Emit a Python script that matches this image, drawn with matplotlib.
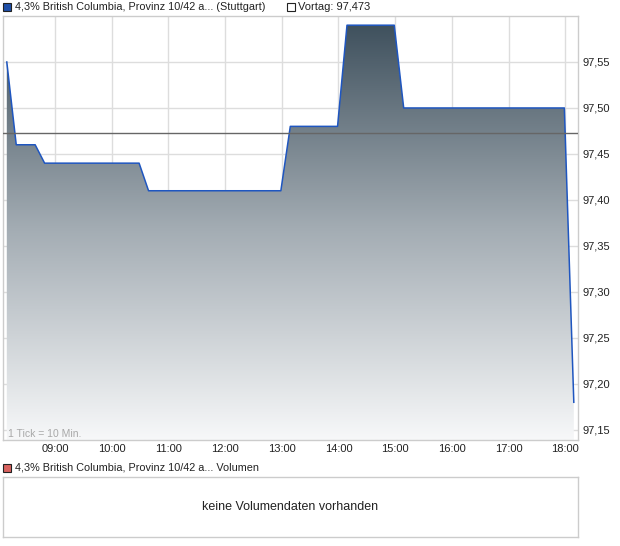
import numpy as np
import matplotlib
matplotlib.use("Agg")
import matplotlib.pyplot as plt
from matplotlib.patches import Rectangle, Polygon
from matplotlib.colors import LinearSegmentedColormap

plt.rcParams['font.family'] = ['Liberation Sans', 'DejaVu Sans']

# Kursdaten (Uhrzeit, Kurs)
zeiten = ["08:09", "08:19", "08:39", "08:49", "10:29", "10:39", "12:59",
          "13:09", "13:59", "14:09", "14:59", "15:09", "17:59", "18:09"]
kurse = [97.55, 97.46, 97.46, 97.44, 97.44, 97.41, 97.41,
         97.48, 97.48, 97.59, 97.59, 97.50, 97.50, 97.18]
vortag = 97.473

x_ticks = ["09:00", "10:00", "11:00", "12:00", "13:00", "14:00",
           "15:00", "16:00", "17:00", "18:00"]
y_ticks = [97.15, 97.20, 97.25, 97.30, 97.35, 97.40, 97.45, 97.50, 97.55]

titel = "4,3% British Columbia, Provinz 10/42 a... (Stuttgart)"
titel_vol = "4,3% British Columbia, Provinz 10/42 a... Volumen"


def to_h(s):
    h, m = s.split(":")
    return int(h) + int(m) / 60.0


W, H = 620, 546
fig = plt.figure(figsize=(W / 100, H / 100), dpi=100)


def fx(px):
    return px / W


def fy(py):
    return 1 - py / H


ax = fig.add_axes([fx(3), fy(440), fx(578) - fx(3), fy(16) - fy(440)])

x = np.array([to_h(t) for t in zeiten])
y = np.array(kurse)

x0, x1 = 8.083, 18.224
y0, y1 = 97.139, 97.60
ax.set_xlim(x0, x1)
ax.set_ylim(y0, y1)

# Verlaufsfüllung
cmap = LinearSegmentedColormap.from_list("grad", ["#f7f8f9", "#a3acb3", "#3b4d5a"])
grad = np.linspace(0, 1, 256).reshape(-1, 1)
im = ax.imshow(grad, cmap=cmap, origin="lower", aspect="auto",
               extent=[x0, x1, y0, y1], zorder=1)
poly = Polygon(np.column_stack([np.r_[x[0], x, x[-1]], np.r_[y0, y, y0]]),
               closed=True, facecolor="none", edgecolor="none")
ax.add_patch(poly)
im.set_clip_path(poly)

ax.plot(x, y, color="#1f56c0", lw=1.1, zorder=3)
ax.axhline(vortag, color="#666666", lw=1, zorder=4)

# Gitter und Achsen
ax.set_xticks([to_h(t) for t in x_ticks])
ax.set_xticklabels(x_ticks)
ax.set_yticks(y_ticks)
ax.set_yticklabels([f"{v:.2f}".replace(".", ",") for v in y_ticks])
ax.grid(True, color="#dddddd", lw=1, zorder=0)
ax.set_axisbelow(True)
ax.yaxis.tick_right()
ax.tick_params(axis="y", length=0, labelsize=8, labelcolor="#222222", pad=3)
ax.tick_params(axis="x", length=0, labelsize=8, labelcolor="#222222", pad=3)
for s in ax.spines.values():
    s.set_color("#cccccc")
    s.set_linewidth(1)

ax.text(0.008, 0.003, "1 Tick = 10 Min.", transform=ax.transAxes,
        fontsize=7.5, color="#a8a8a8", ha="left", va="bottom", zorder=5)

# Legendenkopf oben
fig.patches.append(Rectangle((fx(3), fy(11)), fx(8), 8 / H, transform=fig.transFigure,
                             facecolor="#1f4fa8", edgecolor="#222222", lw=0.8))
fig.text(fx(15), fy(7), titel, fontsize=7.8, va="center", ha="left", color="#222222")
fig.patches.append(Rectangle((fx(287), fy(11)), fx(8), 8 / H, transform=fig.transFigure,
                             facecolor="white", edgecolor="#222222", lw=0.8))
fig.text(fx(298), fy(7), f"Vortag: {vortag:.3f}".replace(".", ","), fontsize=8,
         va="center", ha="left", color="#222222")

# Volumen-Bereich
fig.patches.append(Rectangle((fx(3), fy(472)), fx(8), 8 / H, transform=fig.transFigure,
                             facecolor="#d9625f", edgecolor="#222222", lw=0.8))
fig.text(fx(15), fy(468), titel_vol, fontsize=7.8, va="center", ha="left", color="#222222")

ax2 = fig.add_axes([fx(3), fy(537), fx(578) - fx(3), fy(477) - fy(537)])
ax2.set_xticks([])
ax2.set_yticks([])
for s in ax2.spines.values():
    s.set_color("#cccccc")
    s.set_linewidth(1)
ax2.text(0.5, 0.5, "keine Volumendaten vorhanden", transform=ax2.transAxes,
         ha="center", va="center", fontsize=9, color="#222222")

fig.savefig("out.png", dpi=100)
